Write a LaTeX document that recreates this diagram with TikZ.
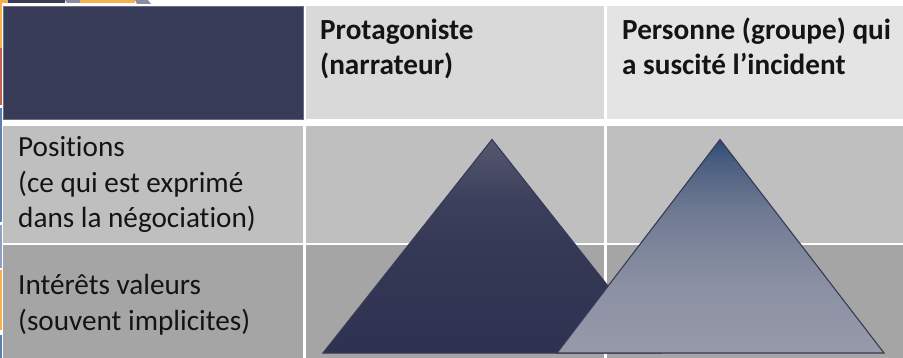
\documentclass[tikz,border=0pt]{standalone}
\usepackage{fontspec}
\setmainfont{Carlito}[Ligatures=NoCommon]
\definecolor{navy}{HTML}{393C58}
\definecolor{hdrA}{HTML}{D9D9D9}
\definecolor{hdrB}{HTML}{E4E4E4}
\definecolor{rowA}{HTML}{BFBFBF}
\definecolor{rowB}{HTML}{A5A5A5}
\definecolor{txtc}{HTML}{141414}
\definecolor{decoO}{HTML}{F5B050}
\definecolor{decoR}{HTML}{C8604E}
\definecolor{decoB}{HTML}{5A7FB0}
\definecolor{decoL}{HTML}{8EA0C0}
\definecolor{decoG}{HTML}{8A8DA0}
\definecolor{triEdge}{HTML}{363A58}
\definecolor{dA}{HTML}{2E3150}
\definecolor{dB}{HTML}{363955}
\definecolor{dC}{HTML}{3D405C}
\definecolor{dD}{HTML}{55586E}
\definecolor{lA}{HTML}{979AAB}
\definecolor{lB}{HTML}{8A90A2}
\definecolor{lC}{HTML}{6F7A92}
\definecolor{lD}{HTML}{4A5D80}
\definecolor{lE}{HTML}{2C4B74}
\pgfdeclareverticalshading{darktri}{100bp}{color(0bp)=(dA); color(25bp)=(dA); color(50bp)=(dB); color(61bp)=(dC); color(75bp)=(dD); color(100bp)=(dD)}
\pgfdeclareverticalshading{lighttri}{100bp}{color(0bp)=(lA); color(25bp)=(lA); color(41.5bp)=(lB); color(58.5bp)=(lC); color(70bp)=(lD); color(75bp)=(lE); color(100bp)=(lE)}
\begin{document}
\begin{tikzpicture}[x=1pt,y=-1pt,
  cell/.style={anchor=north west, inner sep=0pt, outer sep=0pt, draw=none},
  hdrtext/.style={anchor=base west, inner sep=0pt, text=txtc,
     font=\fontsize{29.2}{35}\selectfont\bfseries},
  rowtext/.style={anchor=base west, inner sep=0pt, text=txtc,
     font=\fontsize{29.2}{35.5}\selectfont},
  tri/.style={draw=triEdge, line width=1.1pt, line join=miter}]
\useasboundingbox (0,0) rectangle (903,358);
\fill[white] (0,0) rectangle (903,358);
% decorations (cropped slide elements)
\fill[decoO] (0,0) rectangle (8,3);
\fill[navy] (8,0) rectangle (65,3);
\fill[decoG] (65,0) -- (80,0) -- (82,3) -- (67,3) -- cycle;
\fill[decoO] (80,0) rectangle (135,3);
\fill[decoG] (135,0) -- (148,0) -- (151,4) -- (137,4) -- cycle;
\fill[decoO] (0,0) rectangle (2,48);
\fill[decoR] (0,48) rectangle (2,105);
\fill[decoB] (0,108) rectangle (2,222);
\fill[decoL] (0,225) rectangle (2,268);
\fill[decoO] (0,270) rectangle (2,330);
\fill[decoB] (0,335) rectangle (2,358);
% table cells
\node[cell, fill=navy, draw=navy!75!white, line width=0.6pt, minimum width=300pt, minimum height=113pt] (c00) at (3,6) {};
\node[cell, fill=hdrA, minimum width=298pt, minimum height=113pt] (c01) at (306,6) {};
\node[cell, fill=hdrB, minimum width=296pt, minimum height=113pt] (c02) at (607,6) {};
\node[cell, fill=rowA, minimum width=300pt, minimum height=117pt] (c10) at (3,126) {};
\node[cell, fill=rowA, minimum width=298pt, minimum height=117pt] (c11) at (306,126) {};
\node[cell, fill=rowA, minimum width=296pt, minimum height=117pt] (c12) at (607,126) {};
\node[cell, fill=rowB, minimum width=300pt, minimum height=113pt] (c20) at (3,245) {};
\node[cell, fill=rowB, minimum width=298pt, minimum height=113pt] (c21) at (306,245) {};
\node[cell, fill=rowB, minimum width=296pt, minimum height=113pt] (c22) at (607,245) {};
% texts
\node[hdrtext] (h1) at (320,40) {\vtop{\hbox{Protagoniste}\hbox{(narrateur)}}};
\node[hdrtext] (h2) at (622,40) {\vtop{\hbox{Personne (groupe) qui}\hbox{a suscité l’incident}}};
\node[rowtext] (r1) at (18,157) {\vtop{\hbox{Positions}\hbox{(ce qui est exprimé}\hbox{dans la négociation)}}};
\node[rowtext] (r2) at (18,295) {\vtop{\hbox{Intérêts valeurs}\hbox{(souvent implicites)}}};
% triangles
\coordinate (ta) at (492,139.5);
\coordinate (tl) at (323,353);
\coordinate (tr) at (661,353);
\coordinate (ua) at (720,139.5);
\coordinate (ul) at (557,353);
\coordinate (ur) at (884,353);
\shade[shading=darktri] (ta) -- (tr) -- (tl) -- cycle;
\draw[tri] (ta) -- (tr) -- (tl) -- cycle;
\shade[shading=lighttri] (ua) -- (ur) -- (ul) -- cycle;
\draw[tri] (ua) -- (ur) -- (ul) -- cycle;
\end{tikzpicture}
\end{document}
